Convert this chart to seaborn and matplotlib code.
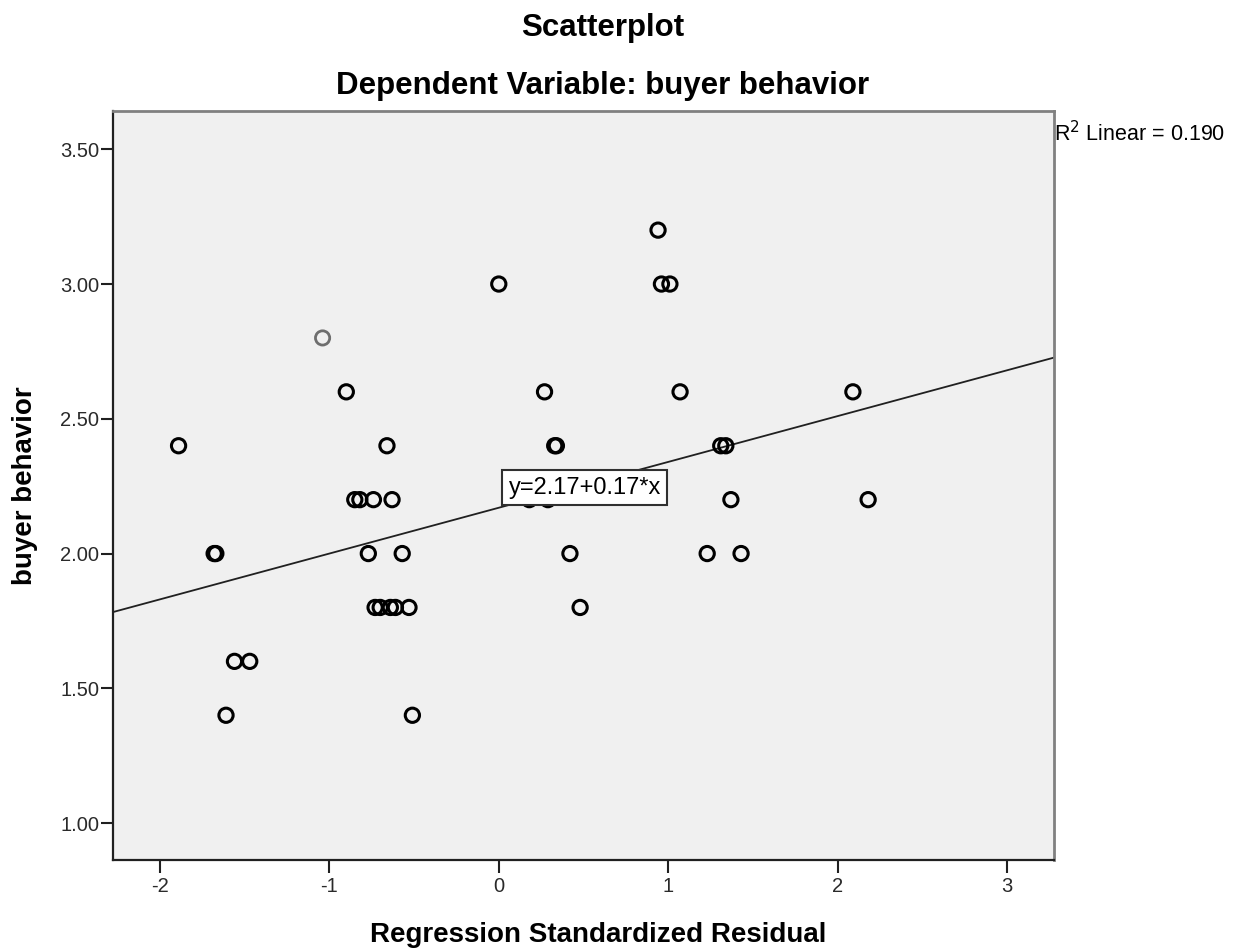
import numpy as np
import pandas as pd
import matplotlib
matplotlib.use("Agg")
import matplotlib.pyplot as plt
import seaborn as sns

# ---- data ----
resid = [-1.89, -1.68, -1.67, -1.56, -1.47, -1.61,
         -0.90, -0.66,
         -0.85, -0.82, -0.74, -0.63,
         -0.77, -0.57,
         -0.73, -0.70, -0.64, -0.61, -0.53,
         -0.51,
         0.00, 0.94, 0.96, 1.01,
         0.27, 1.07, 2.09,
         0.33, 0.34, 1.31, 1.34,
         0.18, 0.29, 1.37, 2.18,
         0.42, 1.23, 1.43,
         0.48]
buyer = [2.4, 2.0, 2.0, 1.6, 1.6, 1.4,
         2.6, 2.4,
         2.2, 2.2, 2.2, 2.2,
         2.0, 2.0,
         1.8, 1.8, 1.8, 1.8, 1.8,
         1.4,
         3.0, 3.2, 3.0, 3.0,
         2.6, 2.6, 2.6,
         2.4, 2.4, 2.4, 2.4,
         2.2, 2.2, 2.2, 2.2,
         2.0, 2.0, 2.0,
         1.8]
gray_resid = [-1.04]
gray_buyer = [2.8]

intercept = 2.17
slope = 0.17
r2 = 0.190

x_ticks = [-2, -1, 0, 1, 2, 3]
y_ticks = [1.00, 1.50, 2.00, 2.50, 3.00, 3.50]

df = pd.DataFrame({"resid": resid, "buyer": buyer})
df_gray = pd.DataFrame({"resid": gray_resid, "buyer": gray_buyer})

sns.set_theme(style="white")
plt.rcParams["font.family"] = ["Liberation Sans", "DejaVu Sans"]
plt.rcParams["text.color"] = "black"

fig = plt.figure(figsize=(12.38, 9.52), dpi=100)
ax = fig.add_axes([113/1238, 1 - 860/952, (1054-113)/1238, (860-111)/952])
ax.set_facecolor("#F0F0F0")

xlim = (-2.277, 3.277)
ylim = (0.863, 3.642)

# fit line
line_x = np.array(xlim)
line_df = pd.DataFrame({"x": line_x, "y": intercept + slope * line_x})
sns.lineplot(data=line_df, x="x", y="y", ax=ax, color="#202020", linewidth=1.3, zorder=2)

sns.scatterplot(data=df, x="resid", y="buyer", ax=ax, marker="o", s=105,
                facecolor="none", edgecolor="black", linewidth=2.2, zorder=3)
sns.scatterplot(data=df_gray, x="resid", y="buyer", ax=ax, marker="o", s=105,
                facecolor="none", edgecolor="#6e6e6e", linewidth=2.0, zorder=3)

ax.set_xlim(*xlim)
ax.set_ylim(*ylim)
ax.set_xticks(x_ticks)
ax.set_xticklabels([str(t) for t in x_ticks])
ax.set_yticks(y_ticks)
ax.set_yticklabels([f"{t:.2f}" for t in y_ticks])
ax.tick_params(axis="both", direction="out", length=9, width=1.5, color="#202020",
               labelsize=14.5, labelcolor="#2a2a2a", bottom=True, left=True)
ax.tick_params(axis="x", pad=3)
ax.tick_params(axis="y", pad=1)

for s in ["left", "bottom"]:
    ax.spines[s].set_color("#202020")
    ax.spines[s].set_linewidth(1.6)
for s in ["top", "right"]:
    ax.spines[s].set_color("#808080")
    ax.spines[s].set_linewidth(2.0)

ax.set_xlabel("Regression Standardized Residual", fontsize=20, fontweight="bold",
              color="black")
ax.xaxis.set_label_coords((598 - 113) / 941, -(922 - 860) / 749)
ax.set_ylabel("buyer behavior", fontsize=20, fontweight="bold", labelpad=16, color="black")

# equation box
ax.text(0.507, 2.244, f"y={intercept:.2f}+{slope:.2f}*x", fontsize=17, ha="center", va="center",
        color="black", zorder=5,
        bbox=dict(boxstyle="square,pad=0.27", facecolor="white", edgecolor="#303030", linewidth=1.5))

# R^2 annotation
ax.text(1.0, 0.987, f"R$^{{2}}$ Linear = {r2:.3f}", transform=ax.transAxes, fontsize=15.5,
        ha="left", va="top", color="black")

fig.text(603/1238, 1 - 28/952, "Scatterplot", fontsize=22.5, fontweight="bold",
         ha="center", va="center", color="black")
fig.text(603/1238, 1 - 86/952, "Dependent Variable: buyer behavior", fontsize=22.5,
         fontweight="bold", ha="center", va="center", color="black")

fig.savefig("out.png", dpi=100, facecolor="white")
